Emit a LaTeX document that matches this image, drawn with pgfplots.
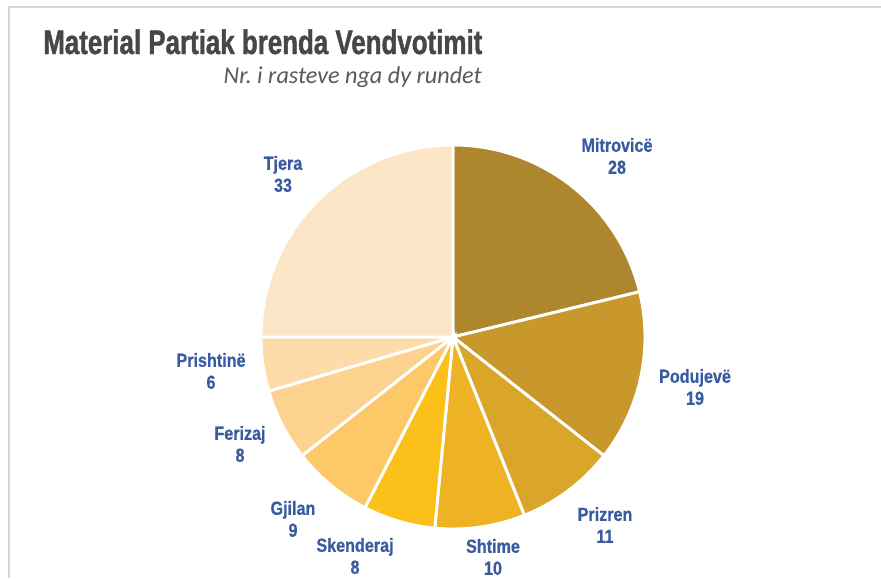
\documentclass[border=0pt]{standalone}
\usepackage{pgfplots}
\pgfplotsset{compat=1.18}
\usepackage{pgfplotstable}
\usepackage{graphicx}
\usepackage{fontspec}
\setmainfont{Liberation Sans}
\newfontfamily\narrowfont{Liberation Sans}[FakeStretch=0.85,FakeBold=0.6]
\newfontfamily\titlefont{Liberation Sans}[FakeStretch=0.76,FakeBold=1.2]
\newfontfamily\subfont{Carlito}

\definecolor{slice0}{HTML}{AE862E}
\definecolor{slice1}{HTML}{C8982C}
\definecolor{slice2}{HTML}{DAA62A}
\definecolor{slice3}{HTML}{EDB324}
\definecolor{slice4}{HTML}{FBC11A}
\definecolor{slice5}{HTML}{FDC868}
\definecolor{slice6}{HTML}{FDD28F}
\definecolor{slice7}{HTML}{FEDCAA}
\definecolor{slice8}{HTML}{FDE5C8}
\definecolor{lblblue}{HTML}{3A5BA0}
\definecolor{titlegray}{HTML}{474747}
\definecolor{subgray}{HTML}{595959}
\definecolor{framegray}{HTML}{D6D6D6}

\pgfplotstableread[col sep=comma]{
name,value
Mitrovicë,28
Podujevë,19
Prizren,11
Shtime,10
Skenderaj,8
Gjilan,9
Ferizaj,8
Prishtinë,6
Tjera,33
}\piedata

\begin{document}
\frenchspacing
\begin{tikzpicture}[x=0.75pt,y=-0.75pt]
% compute angles from the table
\gdef\pietotal{0}
\pgfplotstableforeachcolumnelement{value}\of\piedata\as\pieval{%
  \pgfmathsetmacro\pietmp{\pietotal+\pieval}\xdef\pietotal{\pietmp}}
\gdef\piecum{0}
\gdef\pieidx{0}
\pgfplotstableforeachcolumnelement{value}\of\piedata\as\pieval{%
  \pgfmathsetmacro\piesa{90-360*(\piecum/\pietotal)}%
  \pgfmathsetmacro\pienewcum{\piecum+\pieval}%
  \pgfmathsetmacro\pieea{90-360*(\pienewcum/\pietotal)}%
  \expandafter\xdef\csname sa\pieidx\endcsname{\piesa}%
  \expandafter\xdef\csname ea\pieidx\endcsname{\pieea}%
  \xdef\piecum{\pienewcum}%
  \pgfmathtruncatemacro\pienext{\pieidx+1}\xdef\pieidx{\pienext}}

\path[use as bounding box] (0,0) rectangle (881,578);
\draw[framegray, line width=1.5pt] (9,578) -- (9,7) -- (881,7);

\node[anchor=base west, inner sep=0pt, text=titlegray] at (43,54)
  {\resizebox{329.25pt}{!}{\titlefont\bfseries Material Partiak brenda Vendvotimit}};
\node[anchor=base east, inner sep=0pt, text=subgray] at (482,83)
  {\resizebox{193.5pt}{!}{\subfont\itshape Nr.\ i rasteve nga dy rundet}};

\begin{axis}[
  at={(339.75pt,-252.75pt)}, anchor=center,
  scale only axis, width=288pt, height=288pt,
  xmin=-1, xmax=1, ymin=-1, ymax=1,
  hide axis, clip=false]
\pgfplotsinvokeforeach{0,...,8}{
  \addplot[fill=slice#1, draw=white, line width=2.2pt, line join=miter,
    domain=\csname ea#1\endcsname:\csname sa#1\endcsname, samples=90,
    variable=\t]
    ({cos(\t)},{sin(\t)}) -- (axis cs:0,0) -- cycle;
}
\end{axis}

\tikzset{lbl/.style={align=center, inner sep=0pt, text=lblblue,
  font=\narrowfont\bfseries\fontsize{14.25pt}{16.5pt}\selectfont}}
\node[lbl] at (617,156) {Mitrovicë\\28};
\node[lbl] at (695,387) {Podujevë\\19};
\node[lbl] at (605,525) {Prizren\\11};
\node[lbl] at (493,557) {Shtime\\10};
\node[lbl] at (355,556) {Skenderaj\\8};
\node[lbl] at (293,519) {Gjilan\\9};
\node[lbl] at (240,444) {Ferizaj\\8};
\node[lbl] at (211,371) {Prishtinë\\6};
\node[lbl] at (283,174) {Tjera\\33};
\end{tikzpicture}
\end{document}
